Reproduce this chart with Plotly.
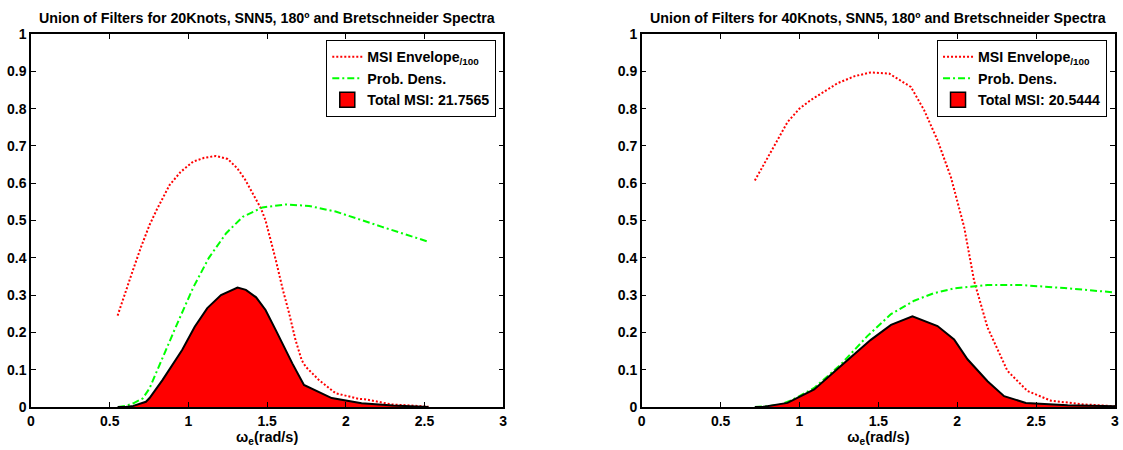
import plotly.graph_objects as go

# ---------------- data ----------------
# Left panel: 20 knots
env20_x = [0.55, 0.60, 0.65, 0.70, 0.753, 0.80, 0.88, 0.95, 1.03, 1.10, 1.175, 1.25, 1.31, 1.36, 1.41,
           1.46, 1.49, 1.523, 1.555, 1.60, 1.64, 1.68, 1.72, 1.745, 1.83, 1.935, 2.08, 2.12, 2.29, 2.525]
env20_y = [0.245, 0.31, 0.37, 0.43, 0.488, 0.53, 0.595, 0.63, 0.658, 0.668, 0.673, 0.665, 0.64, 0.61, 0.573,
           0.533, 0.50, 0.448, 0.394, 0.314, 0.251, 0.18, 0.125, 0.108, 0.072, 0.037, 0.022, 0.021, 0.007, 0.001]

pd20_x = [0.553, 0.60, 0.65, 0.71, 0.753, 0.837, 0.92, 1.03, 1.13, 1.24, 1.345, 1.47, 1.62, 1.766,
          1.935, 2.23, 2.525]
pd20_y = [0.0, 0.003, 0.01, 0.023, 0.05, 0.135, 0.215, 0.32, 0.40, 0.466, 0.51, 0.535, 0.543, 0.539,
          0.524, 0.483, 0.443]

msi20_x = [0.55, 0.60, 0.65, 0.73, 0.753, 0.835, 0.96, 1.04, 1.12, 1.207, 1.312, 1.365, 1.43, 1.49,
           1.555, 1.66, 1.734, 1.91, 2.10, 2.30, 2.525]
msi20_y = [0.0, 0.0, 0.003, 0.014, 0.024, 0.072, 0.153, 0.215, 0.265, 0.30, 0.32, 0.314, 0.294, 0.26,
           0.206, 0.117, 0.059, 0.024, 0.01, 0.004, 0.0]

# Right panel: 40 knots
env40_x = [0.717, 0.776, 0.84, 0.924, 1.0, 1.072, 1.241, 1.35, 1.452, 1.568, 1.706, 1.79, 1.875, 1.96,
           2.044, 2.107, 2.192, 2.318, 2.445, 2.593, 2.80, 3.0]
env40_y = [0.607, 0.652, 0.697, 0.764, 0.80, 0.823, 0.868, 0.887, 0.897, 0.894, 0.858, 0.796, 0.715, 0.616,
           0.482, 0.338, 0.213, 0.097, 0.043, 0.017, 0.007, 0.002]

pd40_x = [0.717, 0.80, 0.882, 0.95, 1.093, 1.262, 1.43, 1.58, 1.727, 1.85, 1.98, 2.192, 2.403, 2.678, 3.0]
pd40_y = [0.0, 0.002, 0.007, 0.018, 0.051, 0.114, 0.19, 0.249, 0.285, 0.305, 0.318, 0.327, 0.327, 0.319, 0.307]

msi40_x = [0.717, 0.776, 0.924, 1.093, 1.262, 1.452, 1.58, 1.716, 1.875, 1.98, 2.065, 2.192, 2.297,
           2.435, 2.70, 3.0]
msi40_y = [0.0, 0.001, 0.011, 0.047, 0.11, 0.18, 0.22, 0.243, 0.217, 0.181, 0.128, 0.069, 0.029,
           0.011, 0.005, 0.002]

titles = ["Union of Filters for 20Knots, SNN5, 180º and Bretschneider Spectra",
          "Union of Filters for 40Knots, SNN5, 180º and Bretschneider Spectra"]
total_labels = ["Total MSI: 21.7565", "Total MSI: 20.5444"]
env_label = "MSI Envelope<sub>/100</sub>"
pd_label = "Prob. Dens."
xlabel = "ω<sub>e</sub>(rad/s)"

xticks = [0, 0.5, 1, 1.5, 2, 2.5, 3]
xticktext = ["0", "0.5", "1", "1.5", "2", "2.5", "3"]
yticks = [0, 0.1, 0.2, 0.3, 0.4, 0.5, 0.6, 0.7, 0.8, 0.9, 1]
yticktext = ["0", "0.1", "0.2", "0.3", "0.4", "0.5", "0.6", "0.7", "0.8", "0.9", "1"]

# ---------------- figure ----------------
FONT = "Liberation Sans, Arial, sans-serif"
W, H = 1123, 450
ML, MR, MT, MB = 31, 4, 34, 43
PW = W - ML - MR
dom_left = [0, (505 - ML) / PW]
dom_right = [(644 - ML) / PW, 1]

fig = go.Figure()

panels = [
    ("x", "y", "legend", env20_x, env20_y, pd20_x, pd20_y, msi20_x, msi20_y, total_labels[0]),
    ("x2", "y2", "legend2", env40_x, env40_y, pd40_x, pd40_y, msi40_x, msi40_y, total_labels[1]),
]

for xa, ya, leg, ex, ey, px, py, mx, my, tl in panels:
    fig.add_trace(go.Scatter(x=ex, y=ey, mode="lines", name=env_label, legend=leg,
                             line=dict(color="#FF0000", width=2, dash="2px,2px"),
                             xaxis=xa, yaxis=ya, hoverinfo="skip"))
    fig.add_trace(go.Scatter(x=px, y=py, mode="lines", name=pd_label, legend=leg,
                             line=dict(color="#00FF00", width=2, dash="7px,3px,2px,3px"),
                             xaxis=xa, yaxis=ya, hoverinfo="skip"))
    fig.add_trace(go.Scatter(x=mx, y=my, mode="lines", fill="tozeroy", fillcolor="#FF0000",
                             line=dict(color="black", width=2), showlegend=False,
                             xaxis=xa, yaxis=ya, hoverinfo="skip"))
    # legend swatch for the filled area
    fig.add_trace(go.Scatter(x=[None], y=[None], mode="markers", name=tl, legend=leg,
                             marker=dict(symbol="square", size=15, color="#FF0000",
                                         line=dict(color="black", width=1.5)),
                             xaxis=xa, yaxis=ya))

axis_common = dict(showgrid=False, zeroline=False, showline=True, linecolor="black", linewidth=1.5,
                   mirror="ticks", ticks="inside", ticklen=5, tickcolor="black", tickwidth=1,
                   tickfont=dict(family=FONT, size=14, color="black", weight="bold"))

for xa_name, ya_name, dom, anchor_x, anchor_y in [("xaxis", "yaxis", dom_left, "y", "x"),
                                                  ("xaxis2", "yaxis2", dom_right, "y2", "x2")]:
    fig.layout[xa_name] = dict(domain=dom, range=[0, 3], anchor=anchor_x, tickmode="array",
                               tickvals=xticks, ticktext=xticktext,
                               title=dict(text=xlabel, standoff=3,
                                          font=dict(family=FONT, size=14.5, color="black", weight="bold")),
                               **axis_common)
    fig.layout[ya_name] = dict(domain=[0, 1], range=[0, 1], anchor=anchor_y, tickmode="array",
                               tickvals=yticks, ticktext=yticktext, **axis_common)

legend_common = dict(bgcolor="white", bordercolor="black", borderwidth=1, xanchor="right", yanchor="top",
                     font=dict(family=FONT, size=14.2, color="black", weight="bold"),
                     itemsizing="trace", tracegroupgap=0)
fig.update_layout(
    width=W, height=H, margin=dict(l=ML, r=MR, t=MT, b=MB),
    paper_bgcolor="white", plot_bgcolor="white",
    legend=dict(x=(498 - ML) / PW, y=(407 - 40) / 373, **legend_common),
    legend2=dict(x=(1111 - ML) / PW, y=(407 - 40) / 373, **legend_common),
)

for dom, t in zip([dom_left, dom_right], titles):
    fig.add_annotation(text=t, x=(dom[0] + dom[1]) / 2, y=(407 - 18) / 373, xref="paper", yref="paper",
                       xanchor="center", yanchor="middle", showarrow=False,
                       font=dict(family=FONT, size=14.25, color="black", weight="bold"))

fig.write_html("out.html", config={"displayModeBar": False},
               post_script="document.body.style.margin='0';document.body.style.padding='0';")
